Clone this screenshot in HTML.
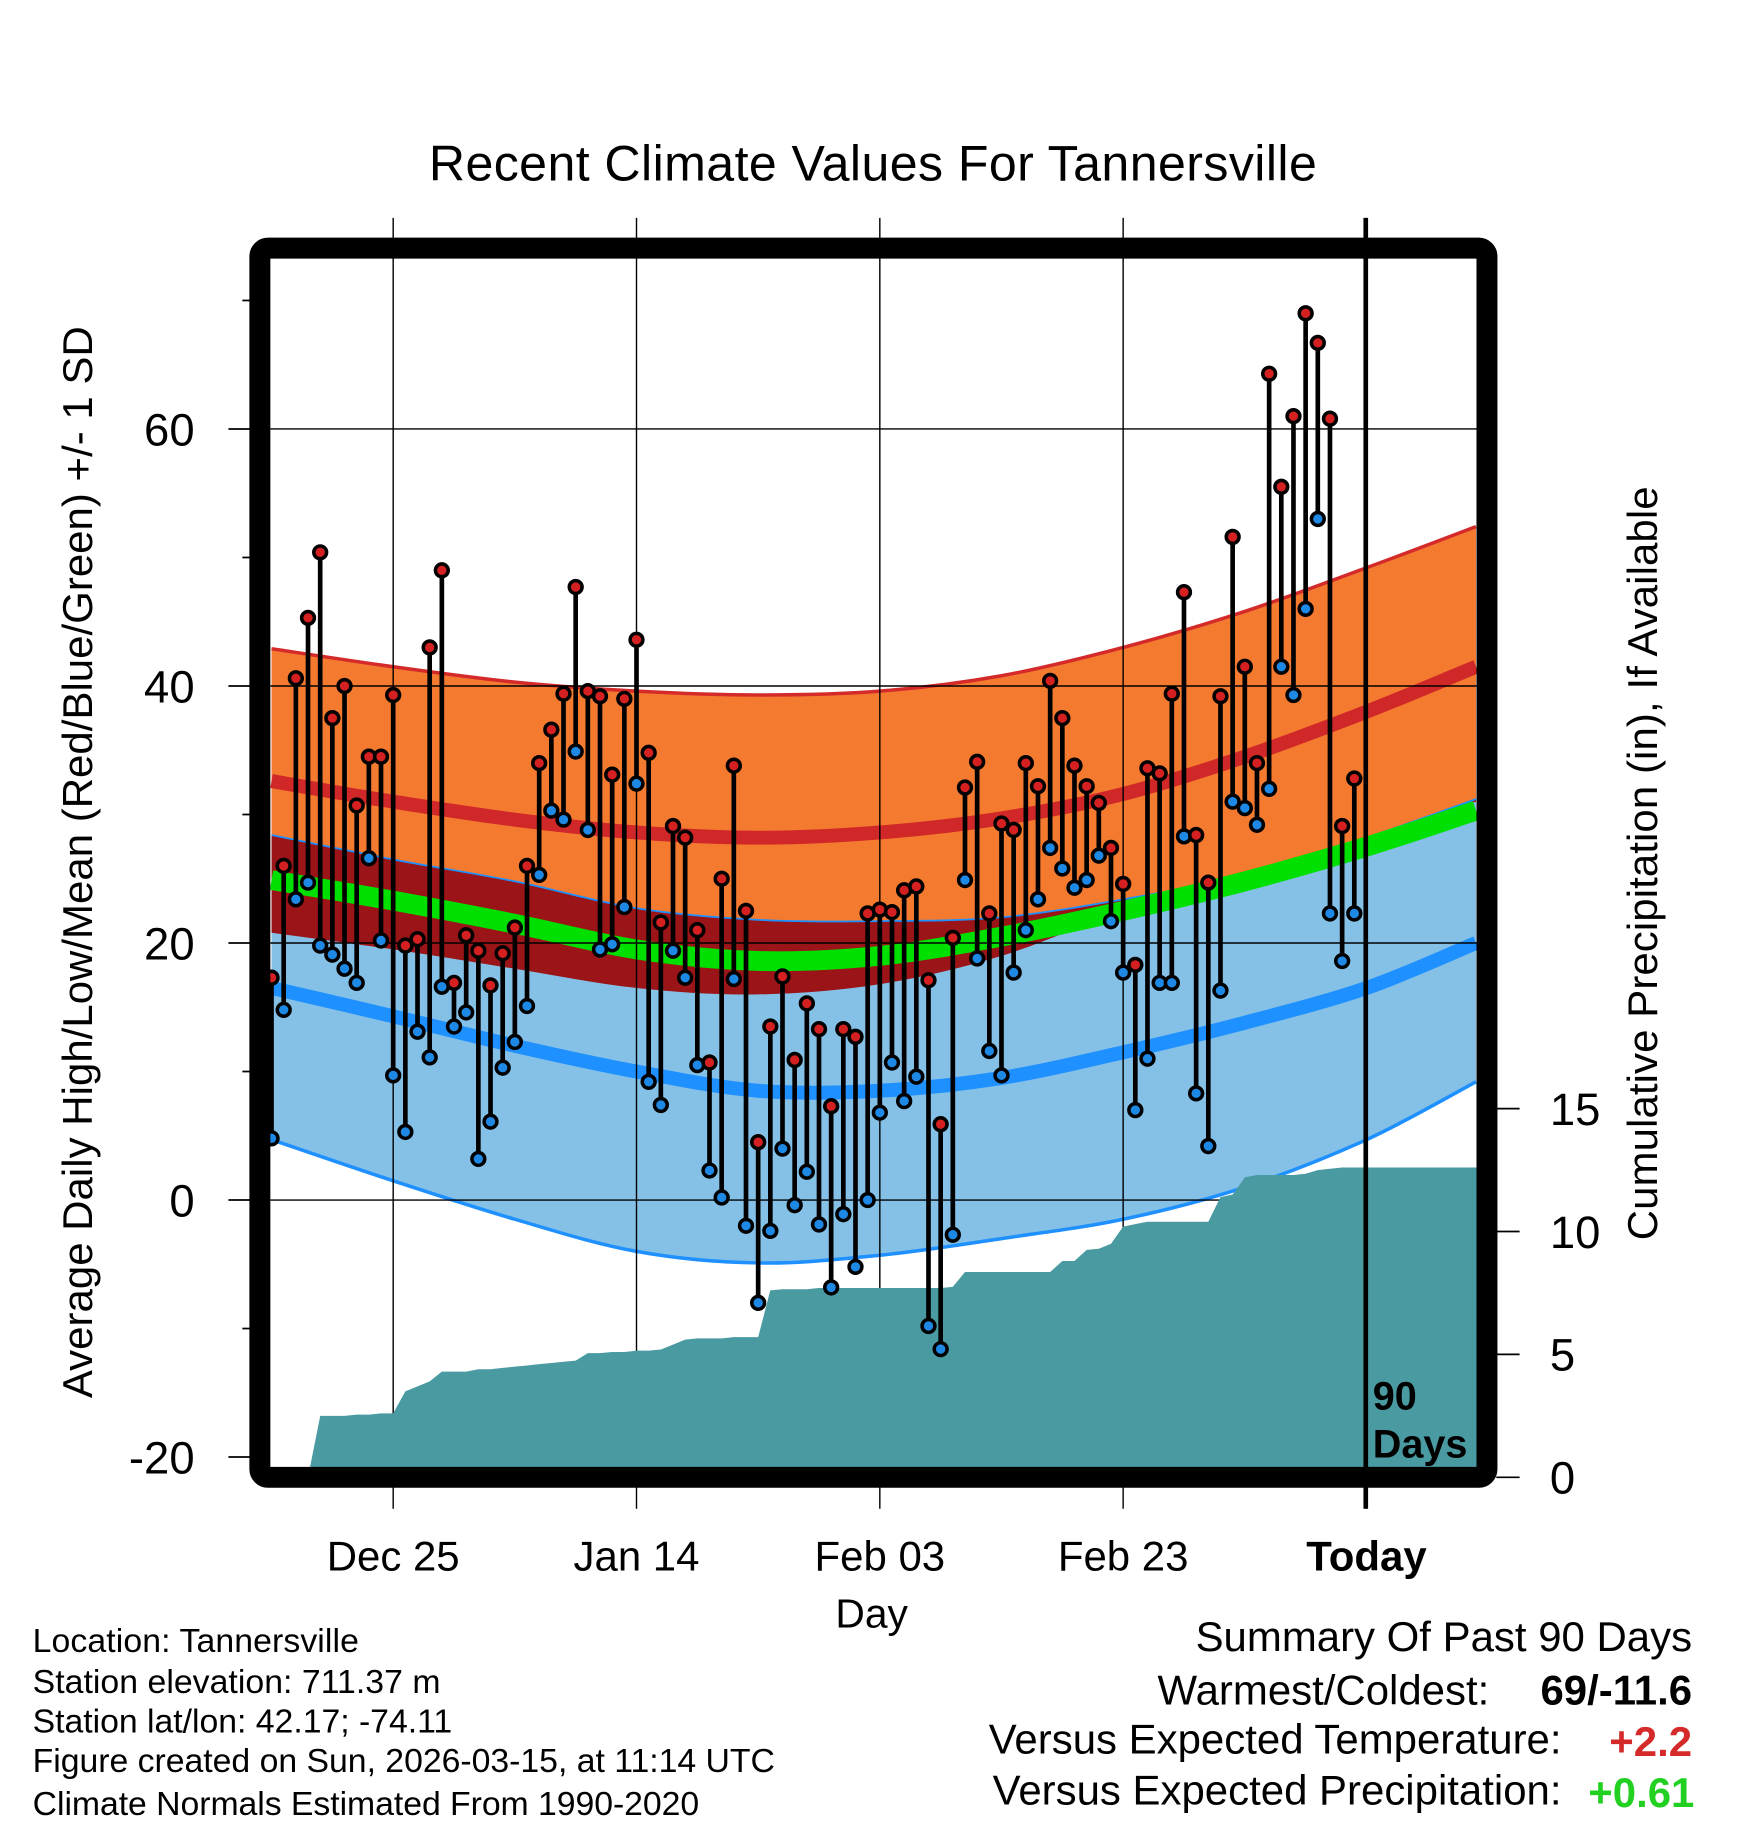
<!DOCTYPE html>
<html><head><meta charset="utf-8"><style>
html,body{margin:0;padding:0;background:#fff}
svg{display:block}
text{font-family:"Liberation Sans",Arial,sans-serif;fill:#000}
</style></head><body>
<svg id="chart" xmlns="http://www.w3.org/2000/svg" width="1748" height="1828" viewBox="0 0 1500 1569" preserveAspectRatio="none">
<rect x="0" y="0" width="1500" height="1569" fill="#fff"/>
<defs><clipPath id="plotclip"><rect x="232" y="222" width="1036" height="1038"/></clipPath></defs>
<g id="bands" clip-path="url(#plotclip)"></g>
<g id="grid"></g>
<g id="precip" clip-path="url(#plotclip)"></g>
<g id="marks"></g>
<line x1="1172" y1="187" x2="1172" y2="1295" stroke="#000" stroke-width="4"/>
<rect x="223" y="213" width="1053" height="1055" rx="7" fill="none" stroke="#000" stroke-width="18"/>
<text x="1178" y="1210" font-size="34" font-weight="bold">90</text>
<text x="1178" y="1251" font-size="34" font-weight="bold">Days</text>
<g id="axes"></g>
<text x="749" y="155" font-size="43" text-anchor="middle" textLength="762">Recent Climate Values For Tannersville</text>
<text transform="translate(79,740) rotate(-90)" font-size="36" text-anchor="middle" textLength="920">Average Daily High/Low/Mean (Red/Blue/Green) +/- 1 SD</text>
<text transform="translate(1422,741) rotate(-90)" font-size="36" text-anchor="middle" textLength="647">Cumulative Precipitation (in), If Available</text>
<text x="748" y="1397" font-size="35" text-anchor="middle">Day</text>
<g font-size="29">
<text x="28" y="1418" textLength="280">Location: Tannersville</text>
<text x="28" y="1453" textLength="350">Station elevation: 711.37 m</text>
<text x="28" y="1487" textLength="360">Station lat/lon: 42.17; -74.11</text>
<text x="28" y="1521" textLength="637">Figure created on Sun, 2026-03-15, at 11:14 UTC</text>
<text x="28" y="1558" textLength="572">Climate Normals Estimated From 1990-2020</text>
</g>
<g font-size="36">
<text x="1452" y="1417" text-anchor="end">Summary Of Past 90 Days</text>
<text x="1278" y="1463" text-anchor="end">Warmest/Coldest:</text>
<text x="1452" y="1463" text-anchor="end" font-weight="bold">69/-11.6</text>
<text x="1340" y="1505" text-anchor="end">Versus Expected Temperature:</text>
<text x="1452" y="1507" text-anchor="end" font-weight="bold" style="fill:#d42a2a">+2.2</text>
<text x="1340" y="1549" text-anchor="end">Versus Expected Precipitation:</text>
<text x="1454" y="1551" text-anchor="end" font-weight="bold" style="fill:#22d022">+0.61</text>
</g>
</svg>
<script>
const normDays = [0,10,20,30,40,50,60,70,80,90,99];
const highUp   = [42.9,41.5,40.3,39.6,39.3,39.6,40.8,43.0,45.8,49.2,52.4];
const highMean = [32.6,31.0,29.6,28.6,28.2,28.6,29.7,31.6,34.5,38.0,41.5];
const highLow  = [20.8,19.5,18.0,16.5,16.0,16.8,19.0,22.5,25.0,28.0,31.0];
const meanLine = [24.9,23.3,21.5,19.5,18.6,19.0,20.5,22.5,24.8,27.5,30.3];
const lowUp    = [28.4,26.5,24.8,22.7,21.8,21.7,22.0,23.4,25.3,28.2,31.2];
const lowMean  = [16.5,14.3,12.0,10.0,8.5,8.5,9.5,11.5,13.8,16.5,20.0];
const lowLow   = [4.7,1.5,-1.5,-4.0,-4.9,-4.3,-3.0,-1.5,1.0,4.7,9.2];
const highs = [17.3,26,40.6,45.3,50.4,37.5,40,30.7,34.5,34.5,39.3,19.8,20.3,43,49,16.9,20.6,19.4,16.7,19.2,21.2,26,34,36.6,39.4,47.7,39.6,39.2,33.1,39,43.6,34.8,21.6,29.1,28.2,21,10.7,25,33.8,22.5,4.5,13.5,17.4,10.9,15.3,13.3,7.3,13.3,12.7,22.3,22.6,22.4,24.1,24.4,17.1,5.9,20.4,32.1,34.1,22.3,29.3,28.8,34,32.2,40.4,37.5,33.8,32.2,30.9,27.4,24.6,18.3,33.6,33.2,39.4,47.3,28.4,24.7,39.2,51.6,41.5,34,64.3,55.5,61,69,66.7,60.8,29.1,32.8];
const lows = [4.8,14.8,23.4,24.7,19.8,19.1,18,16.9,26.6,20.2,9.7,5.3,13.1,11.1,16.6,13.5,14.6,3.2,6.1,10.3,12.3,15.1,25.3,30.3,29.6,34.9,28.8,19.5,19.9,22.8,32.4,9.2,7.4,19.4,17.3,10.5,2.3,0.2,17.2,-2,-8,-2.4,4,-0.4,2.2,-1.9,-6.8,-1.1,-5.2,0,6.8,10.7,7.7,9.6,-9.8,-11.6,-2.7,24.9,18.8,11.6,9.7,17.7,21,23.4,27.4,25.8,24.3,24.9,26.8,21.7,17.7,7,11,16.9,16.9,28.3,8.3,4.2,16.3,31,30.5,29.2,32,41.5,39.3,46,53,22.3,18.6,22.3];
const precipCum = [0,0,0,0,2.5,2.5,2.5,2.55,2.55,2.6,2.6,3.5,3.7,3.9,4.3,4.3,4.3,4.4,4.4,4.45,4.5,4.55,4.6,4.65,4.7,4.75,5.05,5.05,5.1,5.1,5.15,5.15,5.2,5.4,5.6,5.65,5.65,5.65,5.7,5.7,5.7,7.6,7.65,7.65,7.65,7.7,7.7,7.7,7.7,7.7,7.7,7.7,7.7,7.7,7.7,7.7,7.75,8.35,8.35,8.35,8.35,8.35,8.35,8.35,8.35,8.8,8.8,9.25,9.3,9.5,10.2,10.3,10.4,10.4,10.4,10.4,10.4,10.4,11.4,11.5,12.2,12.3,12.3,12.3,12.3,12.35,12.5,12.55,12.6,12.6];
const yTicks = [-20,0,20,40,60];
const yMinor = [-10,10,30,50,70];
const pTicks = [0,5,10,15];
const xTickDays = [10,30,50,70,90];
const xTickLabels = ["Dec 25","Jan 14","Feb 03","Feb 23","Today"];

const NS="http://www.w3.org/2000/svg";
const X = d => 233 + 10.44*d;
const Y = v => 1030 - 11.03*v;
const P = v => 1268 - 21.1*v;
function mk(tag, attrs, parent){const e=document.createElementNS(NS,tag);for(const k in attrs)e.setAttribute(k,attrs[k]);parent.appendChild(e);return e;}
function pts(arr){return normDays.map((d,i)=>[X(d),Y(arr[i])]);}
function smooth(p, move){let s=(move?"M":"L")+p[0][0].toFixed(1)+","+p[0][1].toFixed(1);
  for(let i=0;i<p.length-1;i++){const p0=p[Math.max(0,i-1)],p1=p[i],p2=p[i+1],p3=p[Math.min(p.length-1,i+2)];
    const c1=[p1[0]+(p2[0]-p0[0])/6,p1[1]+(p2[1]-p0[1])/6],c2=[p2[0]-(p3[0]-p1[0])/6,p2[1]-(p3[1]-p1[1])/6];
    s+=" C"+c1[0].toFixed(1)+","+c1[1].toFixed(1)+" "+c2[0].toFixed(1)+","+c2[1].toFixed(1)+" "+p2[0].toFixed(1)+","+p2[1].toFixed(1);}
  return s;}
function band(top,bot){return smooth(pts(top),true)+" "+smooth(pts(bot).reverse(),false)+" Z";}

const bands=document.getElementById('bands');
let e;
e=mk('path',{d:band(highUp,highLow),fill:'#f47a30'},bands);


e=mk('path',{d:band(lowUp,lowLow),fill:'#85c1e6'},bands);


e=mk('path',{d:band(lowUp,highLow),fill:'#9a1418'},bands);


e=mk('path',{d:smooth(pts(highUp),true),fill:'none',stroke:'#d42a2a','stroke-width':3},bands);


e=mk('path',{d:smooth(pts(lowLow),true),fill:'none',stroke:'#1e90ff','stroke-width':3},bands);


e=mk('path',{d:smooth(pts(lowUp),true),fill:'none',stroke:'#1e90ff','stroke-width':1.5},bands);


e=mk('path',{d:smooth(pts(highMean),true),fill:'none',stroke:'#d02828','stroke-width':12},bands);


e=mk('path',{d:smooth(pts(lowMean),true),fill:'none',stroke:'#1e90ff','stroke-width':12},bands);


e=mk('path',{d:smooth(pts(meanLine),true),fill:'none',stroke:'#00e000','stroke-width':17},bands);



const grid=document.getElementById('grid');
yTicks.forEach(v=>{ if(v>-20){ e=mk('line',{x1:232,x2:1268,y1:Y(v),y2:Y(v),stroke:'#000','stroke-width':1.2},grid);
  
  }});
xTickDays.forEach(d=>{ e=mk('line',{x1:X(d),x2:X(d),y1:187,y2:1295,stroke:'#000','stroke-width':1.2},grid);
  
  });

const pg=document.getElementById('precip');
let pd="M"+X(0)+",1270";
precipCum.forEach((v,i)=>{pd+=" L"+X(i).toFixed(1)+","+P(v).toFixed(1);});
pd+=" L1270,"+P(precipCum[precipCum.length-1]).toFixed(1)+" L1270,1270 Z";
e=mk('path',{d:pd,fill:'#4a9aa2'},pg);



const marks=document.getElementById('marks');
highs.forEach((h,i)=>{
  const x=X(i);
  e=mk('line',{x1:x,x2:x,y1:Y(h),y2:Y(lows[i]),stroke:'#000','stroke-width':4},marks);
  
  
});
highs.forEach((h,i)=>{
  const x=X(i);
  e=mk('circle',{cx:x,cy:Y(lows[i]),r:5.5,fill:'#1e88e5',stroke:'#000','stroke-width':3},marks);
  
  
  e=mk('circle',{cx:x,cy:Y(h),r:5.5,fill:'#d42020',stroke:'#000','stroke-width':3},marks);
  
  
});

const ax=document.getElementById('axes');
yTicks.forEach(v=>{
  e=mk('line',{x1:196,x2:216,y1:Y(v),y2:Y(v),stroke:'#000','stroke-width':1.5},ax);
  
  
  e=mk('text',{x:167,y:Y(v)+14,'font-size':39,'text-anchor':'end'},ax);
  e.textContent=v;
  
  
});
yMinor.forEach(v=>{
  e=mk('line',{x1:208,x2:216,y1:Y(v),y2:Y(v),stroke:'#000','stroke-width':1.5},ax);
  
  
});
pTicks.forEach(v=>{
  e=mk('line',{x1:1284,x2:1304,y1:P(v),y2:P(v),stroke:'#000','stroke-width':1.5},ax);
  
  
  e=mk('text',{x:1330,y:P(v)+14,'font-size':39},ax);
  e.textContent=v;
  
  
});
xTickDays.forEach((d,i)=>{
  e=mk('text',{x:X(d),y:1348,'font-size':36,'text-anchor':'middle','font-weight':i===4?'bold':'normal'},ax);
  e.textContent=xTickLabels[i];
  
  
});
</script>
</body></html>
